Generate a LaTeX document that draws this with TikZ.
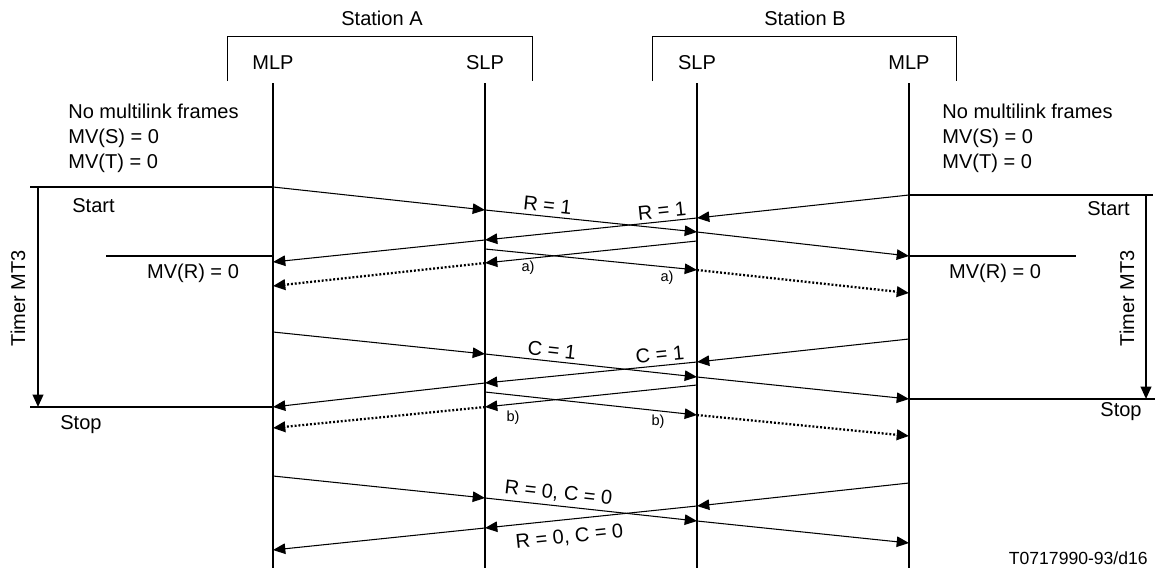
\documentclass[tikz,border=0pt]{standalone}
\usepackage{fontspec}
\setmainfont{Liberation Sans}
\usetikzlibrary{arrows.meta}
\newcommand{\diagfont}{\fontsize{11.4}{14.2}\selectfont}
\newcommand{\notefont}{\fontsize{8.3}{9}\selectfont}
\newcommand{\tagfont}{\fontsize{10}{12}\selectfont}

\begin{document}
\begin{tikzpicture}[x=0.02cm, y=-0.02cm,
  lifeline/.style={line width=1pt},
  bracket/.style={line width=0.5pt},
  frame/.style={line width=0.6pt, -{Triangle[length=7pt,width=6pt]}},
  lost/.style={line width=1.3pt, dash pattern=on 1.1pt off 1.1pt, -{Triangle[length=7pt,width=6pt]}},
  timer/.style={line width=1.1pt},
  txt/.style={inner sep=0pt, font=\diagfont},
  lbl/.style={sloped, inner sep=2pt, font=\diagfont},
  note/.style={inner sep=0pt, font=\notefont}
]
\useasboundingbox (0,0) rectangle (1155,568);

% stations and lifelines
\node[txt] (sta) at (382,18) {Station A};
\node[txt] (stb) at (805,18) {Station B};
\draw[bracket] (227,81) |- (532,36) -- (532,81);
\draw[bracket] (652,81) |- (956,36) -- (956,81);
\foreach \n/\x/\t in {mlpa/273/MLP, slpa/485/SLP, slpb/697/SLP, mlpb/909/MLP} {
  \node[txt] (\n-lbl) at (\x,63) {\t};
  \coordinate (\n-top) at (\x,83);
  \coordinate (\n-bot) at (\x,568);
  \draw[lifeline] (\n-top) -- (\n-bot);
}

% initial state
\node[txt, anchor=west, align=left] (inita) at (68,138) {No multilink frames\\MV(S) = 0\\MV(T) = 0};
\node[txt, anchor=west, align=left] (initb) at (942,138) {No multilink frames\\MV(S) = 0\\MV(T) = 0};

% points where the frames meet the lifelines
\foreach \m/\ya/\yb/\yc/\yd in {r1/187/210/232/256, r2/262/240/218/195,
    c1/332/354/377/399, c2/407/383/362/339, z1/476/498/521/543, z2/550/528/506/483} {
  \coordinate (\m-1) at (273,\ya);
  \coordinate (\m-2) at (485,\yb);
  \coordinate (\m-3) at (697,\yc);
  \coordinate (\m-4) at (909,\yd);
}
\coordinate (a1-3) at (697,241); \coordinate (a1-2) at (485,263); \coordinate (a1-1) at (273,286);
\coordinate (a2-2) at (485,249); \coordinate (a2-3) at (697,270); \coordinate (a2-4) at (909,293);
\coordinate (b1-3) at (697,385); \coordinate (b1-2) at (485,407); \coordinate (b1-1) at (273,428);
\coordinate (b2-2) at (485,392); \coordinate (b2-3) at (697,415); \coordinate (b2-4) at (909,436);

% A to B
\foreach \m in {r1,c1,z1} {
  \draw[frame] (\m-1) -- (\m-2);
  \draw[frame] (\m-3) -- (\m-4);
}
% B to A
\foreach \m in {r2,c2,z2} {
  \draw[frame] (\m-4) -- (\m-3);
  \draw[frame] (\m-2) -- (\m-1);
}
\draw[frame] (r1-2) -- node[lbl, pos=0.29, above] (r1-lbl) {R = 1} (r1-3);
\draw[frame] (r2-3) -- node[lbl, pos=0.16, above] (r2-lbl) {R = 1} (r2-2);
\draw[frame] (c1-2) -- node[lbl, pos=0.31, above] (c1-lbl) {C = 1} (c1-3);
\draw[frame] (c2-3) -- node[lbl, pos=0.17, above] (c2-lbl) {C = 1} (c2-2);
\draw[frame] (z1-2) -- node[lbl, pos=0.34, above] (z1-lbl) {R = 0, C = 0} (z1-3);
\draw[frame] (z2-3) -- node[lbl, pos=0.61, below, inner sep=5pt] (z2-lbl) {R = 0, C = 0} (z2-2);

% a) and b) frames
\draw[frame] (a1-3) -- (a1-2);
\draw[lost] (a1-2) -- (a1-1);
\draw[frame] (a2-2) -- (a2-3);
\draw[lost] (a2-3) -- (a2-4);
\draw[frame] (b1-3) -- (b1-2);
\draw[lost] (b1-2) -- (b1-1);
\draw[frame] (b2-2) -- (b2-3);
\draw[lost] (b2-3) -- (b2-4);
\node[note] (a1-lbl) at (528,268) {a)};
\node[note] (a2-lbl) at (667,278) {a)};
\node[note] (b1-lbl) at (513,418) {b)};
\node[note] (b2-lbl) at (658,422) {b)};

% timer MT3, station A
\coordinate (ta-l) at (30,187);
\coordinate (ta-s) at (38,187);
\coordinate (ta-e) at (38,407);
\coordinate (ta-m) at (30,407);
\coordinate (mva) at (106,256);
\draw[timer] (ta-l) -- (r1-1);
\draw[timer] (ta-m) -- (c2-1);
\draw[timer, -{Triangle[length=7pt,width=6pt]}] (ta-s) -- (ta-e);
\draw[timer] (mva) -- (mva -| mlpa-top);
\node[txt, anchor=west] (starta) at (72,206) {Start};
\node[txt, anchor=west] (stopa) at (60,425) {Stop};
\node[txt, rotate=90] (timera) at (18,298) {Timer MT3};
\node[txt] (mvra) at (193,273) {MV(R) = 0};

% timer MT3, station B
\coordinate (tb-l) at (1153,195);
\coordinate (tb-s) at (1146,195);
\coordinate (tb-e) at (1146,399);
\coordinate (tb-m) at (1155,399);
\coordinate (mvb) at (1076,256);
\draw[timer] (r2-4) -- (tb-l);
\draw[timer] (c1-4) -- (tb-m);
\draw[timer, -{Triangle[length=7pt,width=6pt]}] (tb-s) -- (tb-e);
\draw[timer] (mvb -| mlpb-top) -- (mvb);
\node[txt, anchor=east] (startb) at (1130,209) {Start};
\node[txt] (stopb) at (1121,412) {Stop};
\node[txt, rotate=90] (timerb) at (1127,298) {Timer MT3};
\node[txt] (mvrb) at (995,273) {MV(R) = 0};

\node[inner sep=0pt, font=\tagfont, anchor=east] (tag) at (1148,558) {T0717990-93/d16};
\end{tikzpicture}
\end{document}
